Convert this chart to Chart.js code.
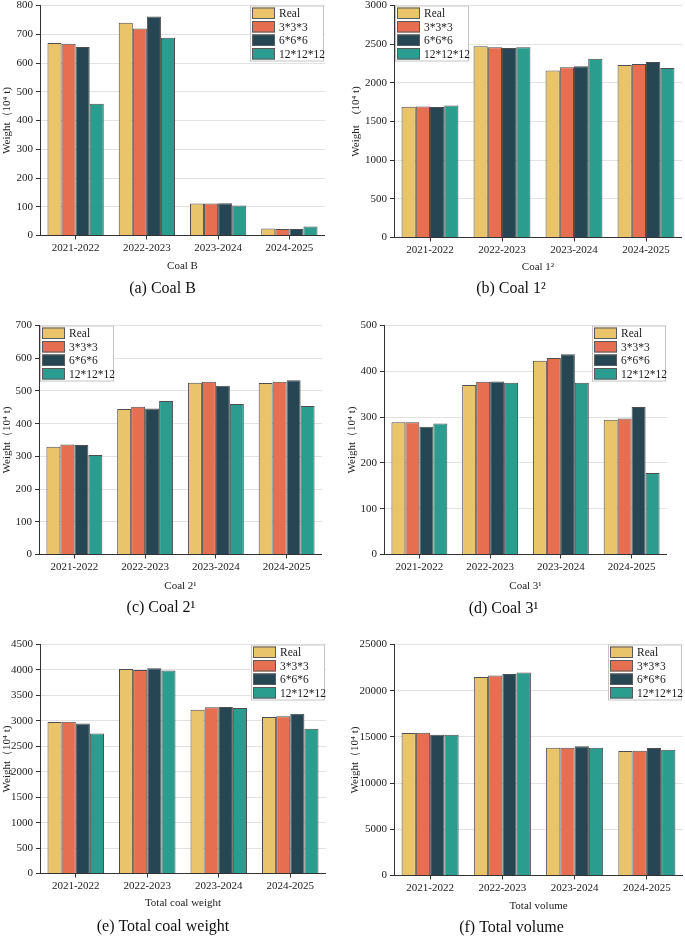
<!DOCTYPE html>
<html>
<head>
<meta charset="utf-8">
<script src="https://cdn.jsdelivr.net/npm/chart.js@4.4.1/dist/chart.umd.min.js"></script>
<style>
  body { margin: 0; background: #fff; width: 685px; height: 937px; overflow: hidden; position: relative; }
  .panel { position: absolute; }
</style>
</head>
<body>
<div class="panel" id="pa"><canvas id="ca"></canvas></div>
<div class="panel" id="pb"><canvas id="cb"></canvas></div>
<div class="panel" id="pc"><canvas id="cc"></canvas></div>
<div class="panel" id="pd"><canvas id="cd"></canvas></div>
<div class="panel" id="pe"><canvas id="ce"></canvas></div>
<div class="panel" id="pf"><canvas id="cf"></canvas></div>
<script>
const periods = ['2021-2022', '2022-2023', '2023-2024', '2024-2025'];
const seriesNames = ['Real', '3*3*3', '6*6*6', '12*12*12'];
const seriesColors = ['#E9C46A', '#E76F51', '#264653', '#2A9D8F'];

// (a) Coal B
const coalBReal = [670, 740, 111, 24];
const coalB333 = [667, 720, 111, 23];
const coalB666 = [656, 762, 112, 23];
const coalB121212 = [458, 688, 104, 31];

// (b) Coal 1^2
const coal12Real = [1690, 2473, 2161, 2231];
const coal12_333 = [1695, 2460, 2200, 2244];
const coal12_666 = [1686, 2451, 2213, 2269];
const coal12_121212 = [1707, 2460, 2313, 2192];

// (c) Coal 2^1
const coal21Real = [329, 445, 525, 524];
const coal21_333 = [336, 452, 528, 528];
const coal21_666 = [335, 446, 516, 533];
const coal21_121212 = [304, 469, 460, 454];

// (d) Coal 3^1
const coal31Real = [289, 370, 423, 294];
const coal31_333 = [289, 377, 429, 297];
const coal31_666 = [279, 378, 437, 322];
const coal31_121212 = [286, 375, 375, 178];

// (e) Total coal weight
const totalReal = [2976, 4021, 3219, 3075];
const total333 = [2983, 4001, 3265, 3088];
const total666 = [2950, 4034, 3272, 3140];
const total121212 = [2753, 3988, 3252, 2845];

// (f) Total volume
const volumeReal = [15426, 21496, 13837, 13475];
const volume333 = [15462, 21640, 13837, 13512];
const volume666 = [15246, 21820, 13981, 13800];
const volume121212 = [15246, 21965, 13837, 13620];

const yMax = [800, 3000, 700, 500, 4500, 25000];
const yStep = [100, 500, 100, 100, 500, 5000];

const FONT = "'Liberation Serif', 'Times New Roman', serif";

const panels = [
  { id: 'a', data: [coalBReal, coalB333, coalB666, coalB121212], xTitle: 'Coal B', caption: '(a) Coal B',
    yTitle: 'Weight（10⁴ t)', legend: 'right',
    left: 0, chartLeft: 40, chartRight: 325, top: 5, bottom: 235, xTitleY: 266, captionY: 288, yTitlePad: 1 },
  { id: 'b', data: [coal12Real, coal12_333, coal12_666, coal12_121212], xTitle: 'Coal 1²', caption: '(b) Coal 1²',
    yTitle: 'Weight    (10⁴ t)', legend: 'left',
    left: 340, chartLeft: 394, chartRight: 682, top: 5, bottom: 237, xTitleY: 267, captionY: 288, yTitlePad: 10 },
  { id: 'c', data: [coal21Real, coal21_333, coal21_666, coal21_121212], xTitle: 'Coal 2¹', caption: '(c) Coal 2¹',
    yTitle: 'Weight（10⁴ t)', legend: 'left',
    left: 0, chartLeft: 39, chartRight: 322, top: 325, bottom: 554, xTitleY: 586, captionY: 607, yTitlePad: 1 },
  { id: 'd', data: [coal31Real, coal31_333, coal31_666, coal31_121212], xTitle: 'Coal 3¹', caption: '(d) Coal 3¹',
    yTitle: 'Weight（10⁴ t)', legend: 'right',
    left: 340, chartLeft: 384, chartRight: 667, top: 325, bottom: 554, xTitleY: 586, captionY: 608, yTitlePad: 6 },
  { id: 'e', data: [totalReal, total333, total666, total121212], xTitle: 'Total coal weight', caption: '(e) Total coal weight',
    yTitle: 'Weight（10⁴ t)', legend: 'right',
    left: 0, chartLeft: 40, chartRight: 326, top: 644, bottom: 873, xTitleY: 903, captionY: 926, yTitlePad: 1 },
  { id: 'f', data: [volumeReal, volume333, volume666, volume121212], xTitle: 'Total volume', caption: '(f) Total volume',
    yTitle: 'Weight（10⁴ t)', legend: 'right',
    left: 340, chartLeft: 394, chartRight: 683, top: 644, bottom: 875, xTitleY: 906, captionY: 927, yTitlePad: 9 }
];

// legend box drawn inside the plot corner
const boxLegend = {
  id: 'boxLegend',
  afterDraw(chart, args, opts) {
    const { ctx, chartArea } = chart;
    const w = 74, h = 56;
    const x = opts.side === 'left' ? chartArea.left + 1 : chartArea.right - w - 1;
    const y = chartArea.top;
    ctx.save();
    ctx.fillStyle = '#fff';
    ctx.fillRect(x, y, w, h);
    ctx.strokeStyle = '#c4c4c4';
    ctx.lineWidth = 1;
    ctx.strokeRect(x + 0.5, y + 0.5, w - 1, h - 1);
    ctx.font = '11.5px ' + FONT;
    ctx.textBaseline = 'middle';
    chart.data.datasets.forEach((ds, i) => {
      const sy = y + 2 + i * 13.5;
      ctx.fillStyle = ds.backgroundColor;
      ctx.fillRect(x + 2, sy, 23, 11.5);
      ctx.strokeStyle = '#5a5a5a';
      ctx.strokeRect(x + 2.5, sy + 0.5, 22, 10.5);
      ctx.fillStyle = '#1a1a1a';
      ctx.fillText(ds.label, x + 29, sy + 6.5);
    });
    ctx.restore();
  }
};

panels.forEach((p, k) => {
  const cTop = p.top - 8.5;
  const xh = p.xTitleY + 6.6 - p.bottom;
  const capPad = p.captionY - 9.6 - (p.bottom + xh);
  const height = p.bottom + xh + capPad + 19.2 - cTop;
  const box = document.getElementById('p' + p.id);
  box.style.left = p.left + 'px';
  box.style.top = cTop + 'px';
  box.style.width = (p.chartRight - p.left) + 'px';
  box.style.height = height + 'px';

  new Chart(document.getElementById('c' + p.id), {
    type: 'bar',
    data: {
      labels: periods,
      datasets: p.data.map((vals, i) => ({
        label: seriesNames[i],
        data: vals,
        backgroundColor: seriesColors[i],
        borderColor: '#4d4d4d',
        borderWidth: 1,
        categoryPercentage: 0.79,
        barPercentage: 1.0
      }))
    },
    options: {
      responsive: true,
      maintainAspectRatio: false,
      animation: false,
      layout: { padding: 0 },
      plugins: {
        legend: { display: false },
        tooltip: { enabled: false },
        boxLegend: { side: p.legend },
        title: {
          display: true,
          position: 'bottom',
          text: p.caption,
          color: '#111',
          font: { family: FONT, size: 16, weight: 'normal' },
          padding: { top: capPad, bottom: 0 }
        }
      },
      scales: {
        x: {
          afterFit(scale) { scale.height = xh; },
          grid: { display: true, drawOnChartArea: false, drawTicks: true, tickLength: 4, offset: false, color: '#333' },
          border: { color: '#333', width: 1 },
          ticks: { color: '#222', padding: 2, font: { family: FONT, size: 11 } },
          title: {
            display: true, text: p.xTitle, color: '#222',
            font: { family: FONT, size: 11 }, padding: { top: 0, bottom: 0 }
          }
        },
        y: {
          min: 0,
          max: yMax[k],
          afterFit(scale) { scale.width = p.chartLeft - p.left; },
          grid: { color: '#e2e2e2', lineWidth: 1, tickColor: '#333', tickLength: 4, drawTicks: true },
          border: { color: '#333', width: 1 },
          ticks: {
            stepSize: yStep[k], color: '#222', padding: 3,
            font: { family: FONT, size: 11, lineHeight: 1 },
            callback: v => String(v)
          },
          title: {
            display: true, text: p.yTitle, color: '#222',
            font: { family: FONT, size: 11 }, padding: { top: p.yTitlePad, bottom: 0 }
          }
        }
      }
    },
    plugins: [boxLegend]
  });
});
</script>
</body>
</html>
